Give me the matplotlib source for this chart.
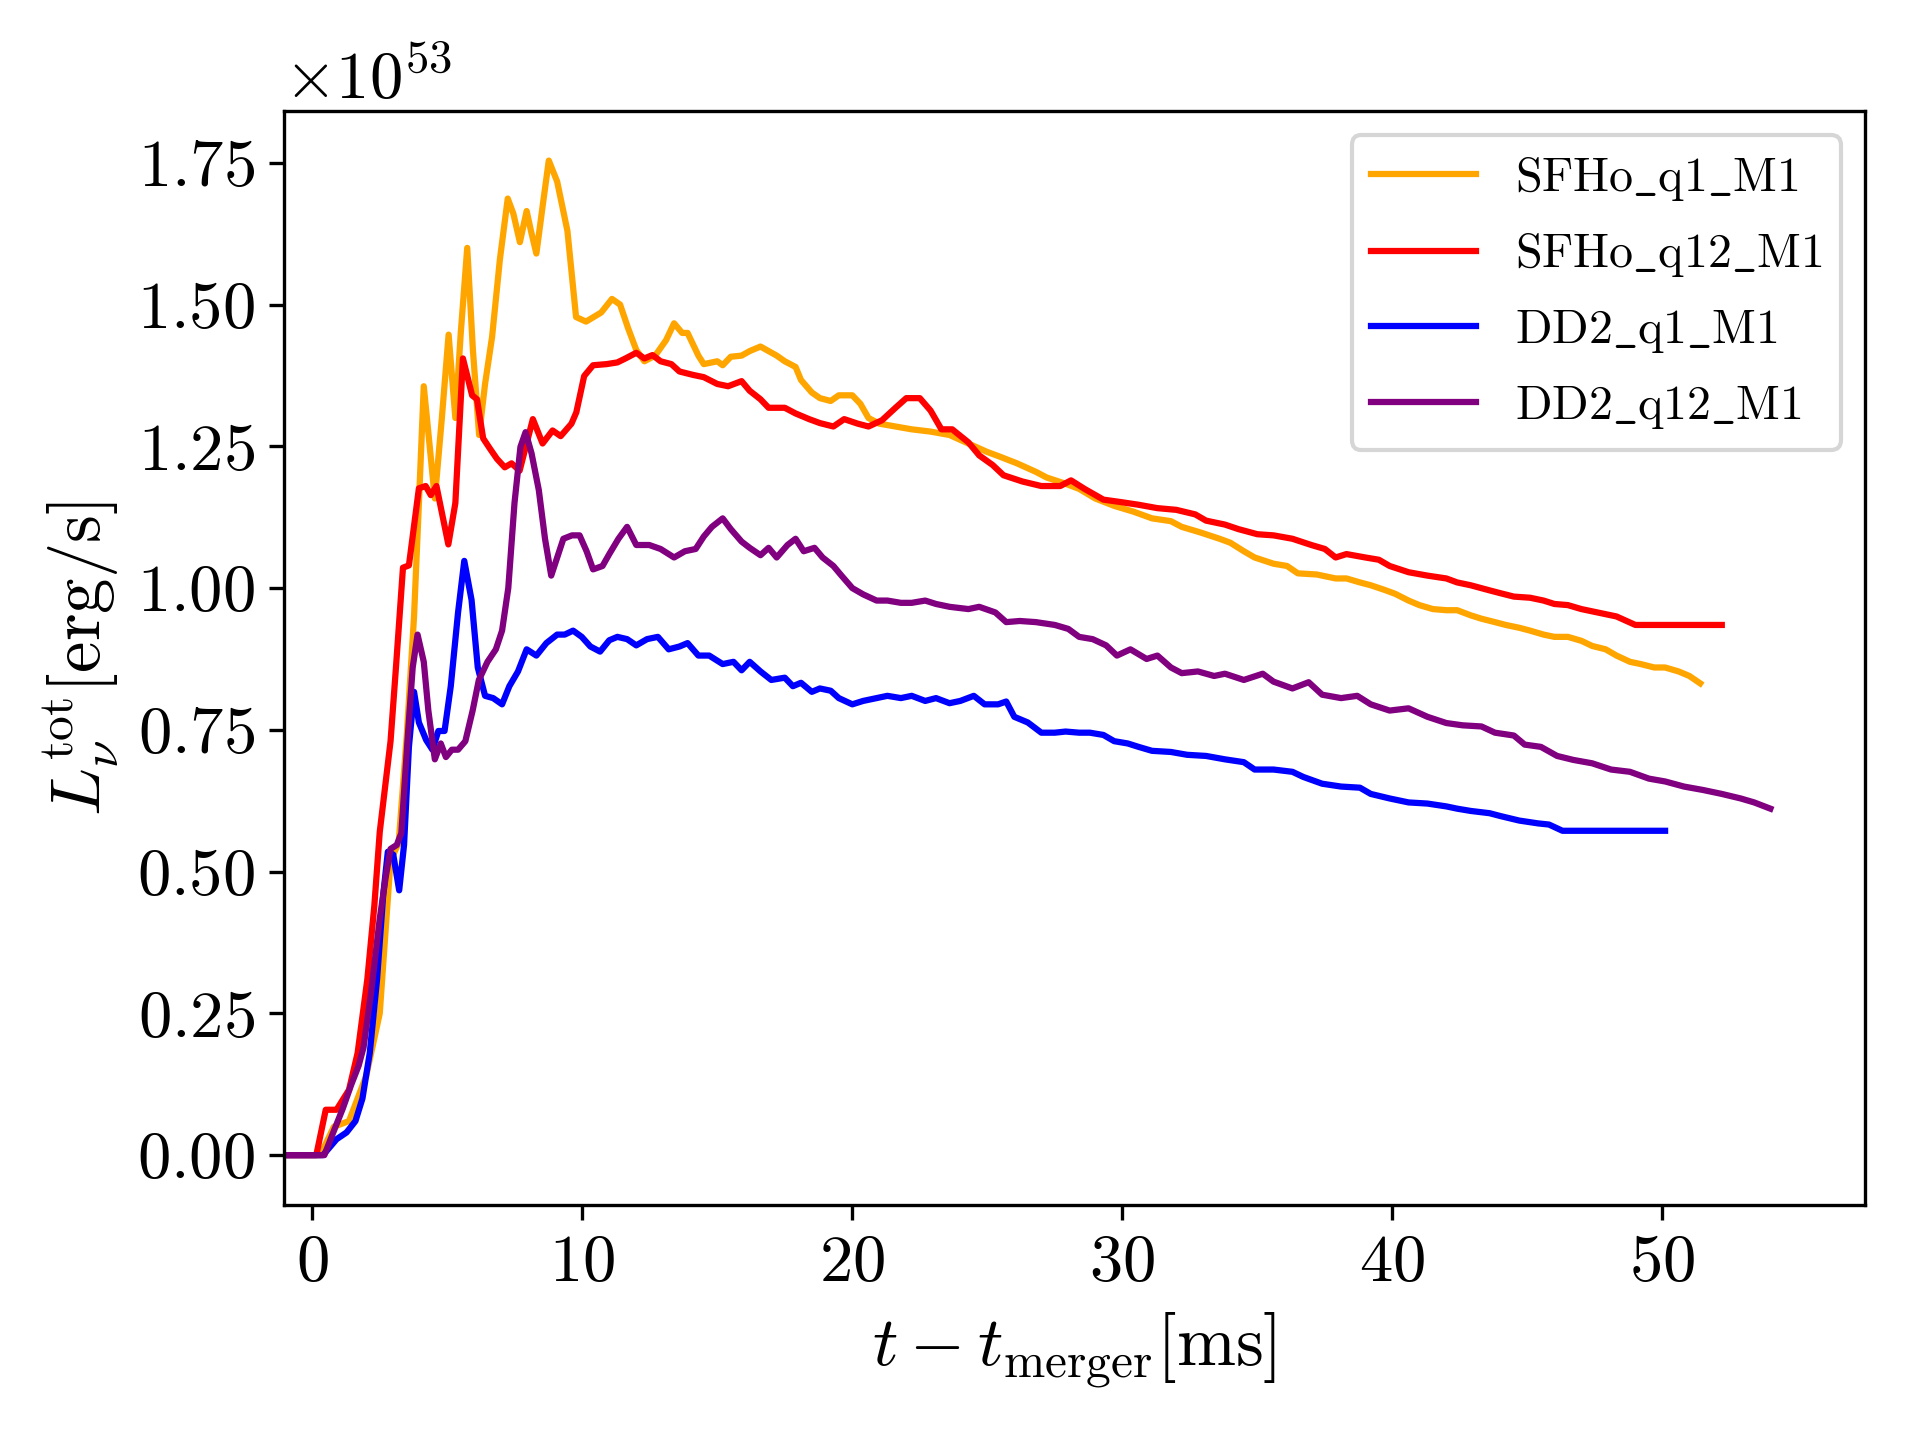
import numpy as np
import matplotlib
matplotlib.use("Agg")
import matplotlib.pyplot as plt

plt.rcParams['font.family'] = 'serif'
plt.rcParams['font.serif'] = ['cmr10']
plt.rcParams['mathtext.fontset'] = 'cm'
plt.rcParams['axes.formatter.use_mathtext'] = True
plt.rcParams['axes.unicode_minus'] = False

# SFHo_q1_M1 (units of 1e53 erg/s)
t_sfho_q1 = [-1.04, 0.3, 0.8, 1.36, 2.0, 2.5, 2.9, 3.2, 3.5, 3.77, 3.95, 4.13, 4.35, 4.54, 4.8, 5.05, 5.3, 5.5,
             5.74, 5.95, 6.18, 6.4, 6.66, 6.95, 7.24, 7.45, 7.69, 7.94, 8.1, 8.3, 8.55, 8.76, 9.07, 9.45, 9.77,
             10.14, 10.7, 11.1, 11.4, 11.7, 12.0, 12.3, 12.7, 13.1, 13.4, 13.7, 13.9, 14.3, 14.5, 15.0, 15.2, 15.5,
             15.9, 16.2, 16.6, 16.9, 17.2, 17.5, 17.9, 18.1, 18.5, 18.8, 19.2, 19.5, 20.0, 20.3, 20.6, 21.0,
             21.6, 22.2, 22.9, 23.6, 24.3, 25.0, 25.4, 26.1, 26.8, 27.2, 27.9, 28.4, 29.0, 29.7, 30.4, 31.1,
             31.8, 32.2, 32.9, 33.6, 34.0, 34.5, 34.9, 35.6, 36.1, 36.5, 37.2, 37.9, 38.3, 38.8, 39.2, 39.7,
             40.1, 40.6, 41.0, 41.5, 42.0, 42.4, 42.9, 43.3, 43.8, 44.2, 44.7, 45.1, 45.6, 46.0, 46.5, 47.0,
             47.4, 47.9, 48.3, 48.8, 49.2, 49.7, 50.1, 50.6, 51.0, 51.4]
L_sfho_q1 = [0.0, 0.0, 0.05, 0.06, 0.14, 0.25, 0.52, 0.55, 0.74, 0.95, 1.15, 1.356, 1.25, 1.158, 1.30, 1.447, 1.30, 1.45,
             1.60, 1.42, 1.27, 1.36, 1.443, 1.58, 1.687, 1.66, 1.61, 1.665, 1.63, 1.59, 1.68, 1.754, 1.717, 1.63, 1.478,
             1.47, 1.486, 1.51, 1.50, 1.458, 1.42, 1.40, 1.41, 1.437, 1.467, 1.45, 1.45, 1.41, 1.395, 1.40, 1.393, 1.408,
             1.41, 1.418, 1.426, 1.418, 1.41, 1.40, 1.39, 1.367, 1.345, 1.335, 1.33, 1.34, 1.34, 1.325, 1.30, 1.29,
             1.285, 1.28, 1.276, 1.27, 1.255, 1.24, 1.233, 1.22, 1.205, 1.195, 1.184, 1.175, 1.158, 1.145, 1.135, 1.123,
             1.118, 1.108, 1.098, 1.087, 1.08, 1.065, 1.054, 1.043, 1.039, 1.026, 1.024, 1.017, 1.017, 1.01, 1.005, 0.997,
             0.99, 0.978, 0.97, 0.963, 0.961, 0.961, 0.952, 0.946, 0.94, 0.935, 0.93, 0.925, 0.918, 0.914, 0.914, 0.907,
             0.898, 0.892, 0.881, 0.87, 0.866, 0.86, 0.86, 0.853, 0.845, 0.832]

# SFHo_q12_M1
t_sfho_q12 = [-1.04, 0.15, 0.5, 0.9, 1.36, 1.68, 2.04, 2.3, 2.5, 2.9, 3.1, 3.36, 3.58, 3.95, 4.2, 4.39, 4.6, 5.04,
              5.3, 5.58, 5.92, 6.1, 6.33, 6.58, 6.84, 7.13, 7.38, 7.68, 8.17, 8.53, 8.9, 9.2, 9.6, 9.78, 10.07,
              10.4, 10.9, 11.3, 11.6, 12.0, 12.3, 12.6, 12.9, 13.3, 13.6, 14.1, 14.5, 15.0, 15.4, 15.9, 16.2, 16.6,
              16.9, 17.5, 17.9, 18.4, 18.8, 19.3, 19.7, 20.2, 20.6, 21.1, 21.6, 22.0, 22.5, 22.9, 23.3, 23.7, 24.3,
              24.7, 25.2, 25.6, 26.3, 27.0, 27.7, 28.1, 28.6, 29.3, 29.9, 30.6, 31.3, 32.0, 32.7, 33.1, 33.8, 34.3,
              35.0, 35.6, 36.3, 37.0, 37.5, 37.9, 38.3, 39.0, 39.5, 39.9, 40.6, 41.3, 42.0, 42.4, 42.9, 43.6, 44.0,
              44.5, 45.1, 45.6, 46.0, 46.5, 47.0, 47.6, 48.3, 49.0, 52.2]
L_sfho_q12 = [0.0, 0.0, 0.08, 0.08, 0.115, 0.18, 0.31, 0.44, 0.57, 0.73, 0.86, 1.036, 1.04, 1.176, 1.18, 1.164, 1.18, 1.077,
              1.15, 1.405, 1.34, 1.333, 1.264, 1.246, 1.228, 1.213, 1.22, 1.207, 1.298, 1.255, 1.278, 1.268, 1.29, 1.31,
              1.374, 1.393, 1.395, 1.398, 1.405, 1.415, 1.405, 1.411, 1.40, 1.395, 1.382, 1.376, 1.372, 1.36, 1.356,
              1.365, 1.348, 1.333, 1.318, 1.318, 1.308, 1.298, 1.291, 1.285, 1.298, 1.29, 1.285, 1.296, 1.318, 1.335,
              1.335, 1.313, 1.28, 1.28, 1.257, 1.234, 1.217, 1.199, 1.188, 1.18, 1.18, 1.19, 1.175, 1.156, 1.152, 1.147,
              1.141, 1.138, 1.13, 1.119, 1.112, 1.104, 1.095, 1.093, 1.087, 1.076, 1.069, 1.054, 1.06, 1.054, 1.05,
              1.039, 1.028, 1.022, 1.017, 1.01, 1.005, 0.996, 0.991, 0.985, 0.983, 0.978, 0.972, 0.97, 0.963, 0.957,
              0.95, 0.935, 0.935]

# DD2_q1_M1
t_dd2_q1 = [-1.04, 0.4, 0.9, 1.27, 1.6, 1.86, 2.13, 2.4, 2.63, 2.8, 3.0, 3.22, 3.4, 3.58, 3.77, 3.95, 4.22, 4.45,
            4.67, 4.9, 5.13, 5.4, 5.63, 5.9, 6.13, 6.4, 6.7, 7.03, 7.3, 7.62, 7.94, 8.3, 8.67, 9.07, 9.35, 9.66,
            9.98, 10.3, 10.66, 11.0, 11.3, 11.66, 12.0, 12.4, 12.8, 13.2, 13.6, 13.9, 14.3, 14.7, 15.2, 15.6,
            15.9, 16.2, 16.6, 17.0, 17.5, 17.8, 18.1, 18.5, 18.8, 19.2, 19.5, 20.0, 20.4, 20.9, 21.3, 21.8, 22.2,
            22.7, 23.1, 23.6, 24.0, 24.5, 24.9, 25.4, 25.7, 26.0, 26.5, 27.0, 27.5, 27.9, 28.4, 28.8, 29.3, 29.7,
            30.2, 30.6, 31.1, 31.8, 32.4, 33.1, 33.8, 34.5, 34.9, 35.6, 36.3, 36.7, 37.4, 38.1, 38.8, 39.2, 39.9,
            40.6, 41.3, 42.0, 42.4, 42.9, 43.6, 44.0, 44.7, 45.4, 45.8, 46.3, 50.1]
L_dd2_q1 = [0.0, 0.0, 0.028, 0.04, 0.06, 0.10, 0.18, 0.31, 0.46, 0.535, 0.53, 0.467, 0.547, 0.72, 0.817, 0.763, 0.732,
            0.715, 0.748, 0.748, 0.827, 0.957, 1.048, 0.979, 0.86, 0.81, 0.806, 0.795, 0.827, 0.853, 0.892, 0.881,
            0.903, 0.918, 0.918, 0.925, 0.914, 0.897, 0.888, 0.908, 0.914, 0.91, 0.899, 0.91, 0.914, 0.892, 0.897,
            0.903, 0.881, 0.881, 0.866, 0.87, 0.855, 0.87, 0.853, 0.838, 0.842, 0.827, 0.833, 0.817, 0.823, 0.819,
            0.806, 0.795, 0.801, 0.806, 0.81, 0.806, 0.81, 0.801, 0.806, 0.797, 0.801, 0.81, 0.795, 0.795, 0.80,
            0.773, 0.763, 0.745, 0.745, 0.747, 0.745, 0.745, 0.741, 0.73, 0.726, 0.72, 0.713, 0.711, 0.706, 0.704,
            0.698, 0.693, 0.68, 0.68, 0.676, 0.667, 0.655, 0.65, 0.648, 0.637, 0.629, 0.622, 0.62, 0.615, 0.611,
            0.607, 0.603, 0.598, 0.59, 0.585, 0.583, 0.572, 0.572]

# DD2_q12_M1
t_dd2_q12 = [-1.04, 0.45, 0.77, 1.13, 1.45, 1.72, 1.9, 2.18, 2.5, 2.72, 2.9, 3.13, 3.3, 3.54, 3.72, 3.9, 4.13, 4.3,
             4.54, 4.76, 4.95, 5.17, 5.4, 5.67, 5.94, 6.17, 6.49, 6.8, 7.03, 7.26, 7.49, 7.71, 7.9, 8.12, 8.39,
             8.62, 8.85, 9.07, 9.3, 9.62, 9.9, 10.16, 10.4, 10.75, 11.0, 11.34, 11.66, 12.0, 12.48, 12.9, 13.4,
             13.8, 14.2, 14.5, 14.8, 15.2, 15.5, 15.9, 16.2, 16.6, 16.9, 17.2, 17.6, 17.9, 18.2, 18.6, 18.9, 19.3,
             19.6, 20.0, 20.4, 20.9, 21.3, 21.8, 22.2, 22.7, 23.1, 23.6, 24.3, 24.7, 25.3, 25.7, 26.2, 26.8, 27.5,
             28.0, 28.4, 28.9, 29.4, 29.8, 30.3, 30.9, 31.3, 31.8, 32.2, 32.8, 33.4, 33.8, 34.5, 35.2, 35.6, 36.3,
             36.9, 37.4, 38.1, 38.7, 39.2, 39.9, 40.6, 41.3, 42.0, 42.6, 43.3, 43.8, 44.5, 44.9, 45.5, 46.1, 46.7,
             47.4, 48.1, 48.8, 49.5, 50.1, 50.8, 51.5, 52.2, 52.9, 53.4, 54.0]
L_dd2_q12 = [0.0, 0.0, 0.039, 0.082, 0.125, 0.158, 0.19, 0.287, 0.417, 0.49, 0.54, 0.547, 0.568, 0.74, 0.86, 0.918, 0.87,
             0.784, 0.698, 0.726, 0.702, 0.715, 0.715, 0.73, 0.784, 0.838, 0.87, 0.892, 0.925, 1.0, 1.15, 1.249, 1.275,
             1.238, 1.173, 1.087, 1.022, 1.054, 1.087, 1.093, 1.093, 1.065, 1.033, 1.039, 1.06, 1.087, 1.108, 1.076,
             1.076, 1.069, 1.054, 1.065, 1.069, 1.091, 1.108, 1.123, 1.104, 1.082, 1.071, 1.058, 1.071, 1.054, 1.076,
             1.087, 1.065, 1.071, 1.054, 1.039, 1.022, 1.0, 0.989, 0.978, 0.978, 0.974, 0.974, 0.978, 0.972, 0.967,
             0.963, 0.967, 0.957, 0.94, 0.942, 0.94, 0.935, 0.928, 0.914, 0.91, 0.899, 0.881, 0.892, 0.875, 0.881,
             0.86, 0.85, 0.853, 0.845, 0.849, 0.838, 0.849, 0.835, 0.823, 0.834, 0.812, 0.806, 0.81, 0.795, 0.784,
             0.788, 0.773, 0.762, 0.758, 0.756, 0.745, 0.74, 0.724, 0.72, 0.704, 0.697, 0.691, 0.68, 0.676, 0.664,
             0.659, 0.65, 0.644, 0.637, 0.629, 0.622, 0.611]

series = [
    (t_sfho_q1, L_sfho_q1, 'orange', r'$\mathrm{SFHo\_q1\_M1}$'),
    (t_sfho_q12, L_sfho_q12, 'red', r'$\mathrm{SFHo\_q12\_M1}$'),
    (t_dd2_q1, L_dd2_q1, 'blue', r'$\mathrm{DD2\_q1\_M1}$'),
    (t_dd2_q12, L_dd2_q12, 'purple', r'$\mathrm{DD2\_q12\_M1}$'),
]

fig = plt.figure(figsize=(6.4, 4.8), dpi=300)
ax = fig.add_axes([0.148, 0.1633, 0.8233, 0.7593])
for t, L, c, lab in series:
    ax.plot(t, np.array(L) * 1e53, color=c, lw=1.5, label=lab)

ax.set_xlim(-1.04, 57.5)
ax.set_ylim(-0.0877e53, 1.8406e53)
ax.set_xticks([0, 10, 20, 30, 40, 50])
ax.set_yticks(np.arange(0, 1.76, 0.25) * 1e53)
ax.tick_params(labelsize=16)
ax.yaxis.get_offset_text().set_fontsize(16)
ax.set_xlabel(r'$t - t_{\rm merger} [{\rm ms}]$', fontsize=17)
ax.set_ylabel(r'$L_\nu^{\rm tot} [{\rm erg/s}]$', fontsize=17)
ax.legend(loc='upper right', fontsize=11.5, labelspacing=0.6, handlelength=2.2)

fig.savefig('out.png', dpi=300)
